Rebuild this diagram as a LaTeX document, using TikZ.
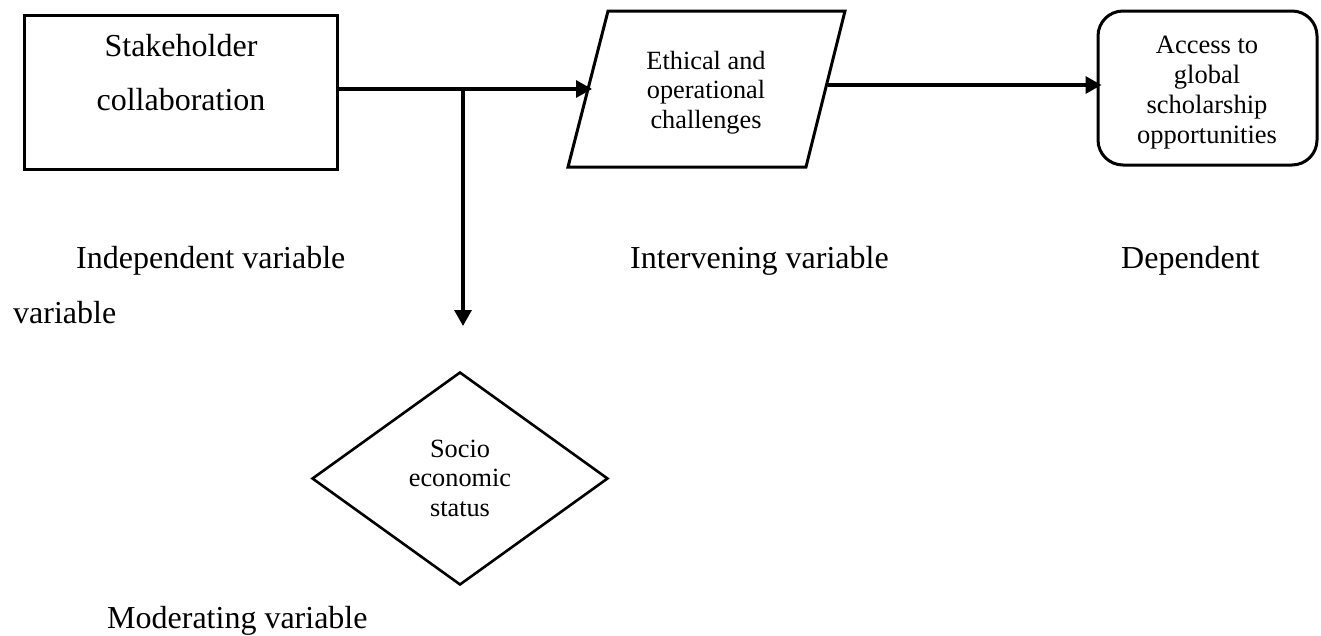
\documentclass[tikz,border=0pt]{standalone}
\usepackage{fontspec}
\setmainfont{Liberation Serif}
\usetikzlibrary{arrows.meta,shapes.geometric}
\begin{document}
\begin{tikzpicture}[x=1pt,y=-1pt,
  shapeline/.style={line width=3pt},
  conn/.style={line width=3.2pt, -{Triangle[length=16pt,width=17pt]}},
  lbl/.style={font=\fontsize{32}{54}\selectfont, inner sep=0pt, anchor=base west},
  intext/.style={inner sep=0pt, anchor=base},
  bigfont/.style={font=\fontsize{32}{54}\selectfont},
  smallfont/.style={font=\fontsize{26.3}{29.8}\selectfont},
]
\useasboundingbox (0,0) rectangle (1321,635);

% shapes
\node[draw, shapeline, minimum width=313pt, minimum height=154pt, inner sep=0pt] (sh) at (180.5,92) {};
\draw[shapeline, line join=miter] (568,167) -- (806,167) -- (845,11) -- (608,11) -- cycle;
\coordinate (ethin) at (592,89);
\coordinate (ethout) at (828,85);
\node[draw, shapeline, rounded corners=25pt, minimum width=219pt, minimum height=154pt, inner sep=0pt] (acc) at (1207.5,88) {};
\node[draw, diamond, line width=2.6pt, minimum width=296pt, minimum height=213pt, inner sep=0pt] (ses) at (460,478.5) {};

% connectors
\coordinate (j) at (463,89);
\coordinate (modarr) at (463,326);
\draw[conn] (sh.east |- j) -- (ethin);
\draw[conn] (j) -- (modarr);
\draw[conn, shorten >=-5pt] (ethout) -- (ethout -| acc.west);

% texts inside shapes
\node[intext, bigfont] (tsh) at (181,56) {\begin{tabular}[t]{@{}c@{}}Stakeholder\\collaboration\end{tabular}};
\node[intext, smallfont] (teth) at (706,69) {\begin{tabular}[t]{@{}c@{}}Ethical and\\operational\\challenges\end{tabular}};
\node[intext, font=\fontsize{26.5}{30.3}\selectfont] (tacc) at (1207,53) {\begin{tabular}[t]{@{}c@{}}Access to\\global\\scholarship\\opportunities\end{tabular}};
\node[intext, smallfont] (tses) at (460,457) {\begin{tabular}[t]{@{}c@{}}Socio\\economic\\status\end{tabular}};

% labels
\node[lbl] (l1) at (76,268) {Independent variable};
\node[lbl] (l1b) at (13,323) {variable};
\node[lbl] (l2) at (630,268) {Intervening variable};
\node[lbl] (l3) at (1121,268) {Dependent};
\node[lbl] (l4) at (107,628) {Moderating variable};
\end{tikzpicture}
\end{document}
